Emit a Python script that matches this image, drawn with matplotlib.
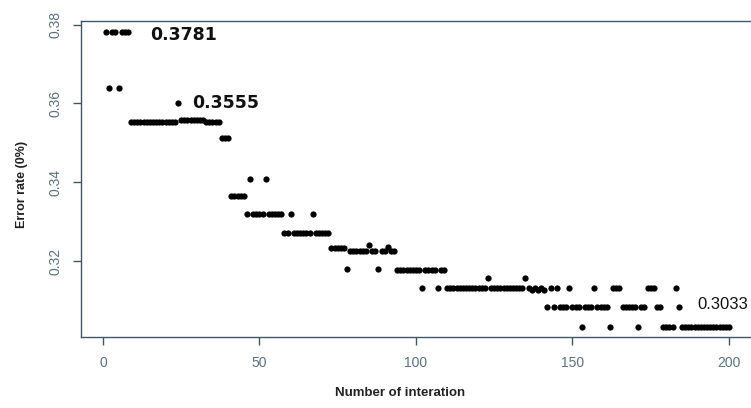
import matplotlib
matplotlib.use("Agg")
import matplotlib.pyplot as plt
import numpy as np

# ---- data ----
iterations = np.arange(1, 201)
error_rate = [
    0.3781, 0.3638, 0.3781, 0.3781, 0.3638, 0.3781, 0.3781, 0.3781,            # 1-8
    0.3553, 0.3553, 0.3553, 0.3553, 0.3553, 0.3553, 0.3553, 0.3553,            # 9-16
    0.3553, 0.3553, 0.3553, 0.3553, 0.3553, 0.3553, 0.3553, 0.3600,            # 17-24
    0.3557, 0.3557, 0.3557, 0.3557, 0.3557, 0.3557, 0.3557, 0.3557,            # 25-32
    0.3553, 0.3553, 0.3553, 0.3553, 0.3553, 0.3511, 0.3511, 0.3511,            # 33-40
    0.3365, 0.3365, 0.3365, 0.3365, 0.3365, 0.3319, 0.3409, 0.3319,            # 41-48
    0.3319, 0.3319, 0.3319, 0.3409, 0.3319, 0.3319, 0.3319, 0.3319,            # 49-56
    0.3319, 0.3272, 0.3272, 0.3319, 0.3272, 0.3272, 0.3272, 0.3272,            # 57-64
    0.3272, 0.3272, 0.3319, 0.3272, 0.3272, 0.3272, 0.3272, 0.3272,            # 65-72
    0.3234, 0.3234, 0.3234, 0.3234, 0.3234, 0.3179, 0.3224, 0.3224,            # 73-80
    0.3224, 0.3224, 0.3224, 0.3224, 0.3240, 0.3224, 0.3224, 0.3179,            # 81-88
    0.3224, 0.3224, 0.3236, 0.3224, 0.3224, 0.3177, 0.3177, 0.3177,            # 89-96
    0.3177, 0.3177, 0.3177, 0.3177, 0.3177, 0.3131, 0.3177, 0.3177,            # 97-104
    0.3177, 0.3177, 0.3131, 0.3177, 0.3177, 0.3131, 0.3131, 0.3131,            # 105-112
    0.3131, 0.3131, 0.3131, 0.3131, 0.3131, 0.3131, 0.3131, 0.3131,            # 113-120
    0.3131, 0.3131, 0.3156, 0.3131, 0.3131, 0.3131, 0.3131, 0.3131,            # 121-128
    0.3131, 0.3131, 0.3131, 0.3131, 0.3131, 0.3131, 0.3156, 0.3131,            # 129-136
    0.3127, 0.3131, 0.3127, 0.3131, 0.3127, 0.3084, 0.3131, 0.3084,            # 137-144
    0.3131, 0.3084, 0.3084, 0.3084, 0.3131, 0.3084, 0.3084, 0.3084,            # 145-152
    0.3033, 0.3084, 0.3084, 0.3084, 0.3131, 0.3084, 0.3084, 0.3084,            # 153-160
    0.3084, 0.3033, 0.3131, 0.3131, 0.3131, 0.3084, 0.3084, 0.3084,            # 161-168
    0.3084, 0.3084, 0.3033, 0.3084, 0.3084, 0.3131, 0.3131, 0.3131,            # 169-176
    0.3084, 0.3084, 0.3033, 0.3033, 0.3033, 0.3033, 0.3131, 0.3084,            # 177-184
    0.3033, 0.3033, 0.3033, 0.3033, 0.3033, 0.3033, 0.3033, 0.3033,            # 185-192
    0.3033, 0.3033, 0.3033, 0.3033, 0.3033, 0.3033, 0.3033, 0.3033,            # 193-200
]
annot_text = ["0.3781", "0.3555", "0.3033"]
annot_x = [15, 28.5, 190.0]
annot_y = [0.3773, 0.3600, 0.3089]
annot_weight = ["bold", "bold", "normal"]
annot_size = [12.5, 12.5, 12.0]
annot_family = ["DejaVu Sans", "DejaVu Sans", "Liberation Sans"]
xticks = [0, 50, 100, 150, 200]
yticks = [0.32, 0.34, 0.36, 0.38]
ytick_labels = ["0.32", "0.34", "0.36", "0.38"]

W, H = 751, 408
fig = plt.figure(figsize=(W / 100, H / 100), dpi=100)
ax = fig.add_axes([81 / W, (H - 337) / H, (754 - 81) / W, (337 - 21) / H])

ax.plot(iterations, error_rate, linestyle="none", marker="o",
        markersize=4.5, color="black", markeredgewidth=0)

ax.set_xlim(-7.0, 208.0)
ax.set_ylim(0.3007, 0.3809)

box_color = "#3f5868"
tick_color = "#5a7080"
for s in ax.spines.values():
    s.set_color(box_color)
    s.set_linewidth(1.0)

ax.set_xticks(xticks)
ax.set_yticks(yticks)
ax.set_yticklabels(ytick_labels)
ax.tick_params(axis="both", direction="out", length=6, width=1,
               colors=box_color, labelcolor=tick_color, labelsize=10)
ax.tick_params(axis="x", pad=8)
ax.tick_params(axis="y", pad=7)
for lab in ax.get_xticklabels() + ax.get_yticklabels():
    lab.set_fontfamily("Liberation Sans")
for lab in ax.get_yticklabels():
    lab.set_rotation(90)
    lab.set_va("center")

for t, x, y, w, fs, fam in zip(annot_text, annot_x, annot_y, annot_weight,
                               annot_size, annot_family):
    ax.text(x, y, t, fontsize=fs, fontweight=w, color="#111111",
            ha="left", va="center", family=fam, clip_on=False)

fig.text(22 / W, 1 - 184 / H, "Error rate (0%)", rotation=90,
         ha="center", va="center", fontsize=9, fontweight="bold",
         family="Liberation Sans", color="#222222")
fig.text(400 / W, 1 - 393 / H, "Number of interation",
         ha="center", va="center", fontsize=9.5, fontweight="bold",
         family="Liberation Sans", color="#222222")

fig.savefig("out.png", dpi=100)
